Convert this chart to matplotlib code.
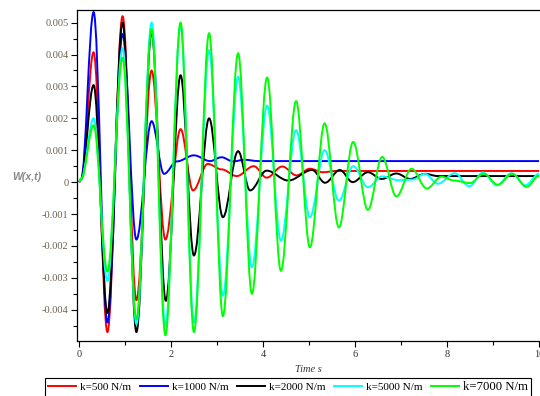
import matplotlib.pyplot as plt
from matplotlib.path import Path
from matplotlib.patches import PathPatch
from matplotlib.lines import Line2D
from matplotlib.ticker import MultipleLocator, FuncFormatter

# values (peaks / troughs of each response)
t_500 = [0, 0.05, 0.32, 0.62, 0.95, 1.25, 1.58, 1.88, 2.21, 2.48, 2.8, 3.1,
         3.43, 3.8, 4.08, 4.42, 4.73, 5.02, 5.3, 5.6, 10]
w_500 = [0, 0.0001, 0.00407, -0.0047, 0.0052, -0.0037, 0.0035, -0.0018,
         0.00166, -0.00026, 0.00057, 0.0004, 0.00019, 0.0005, 0.00014,
         0.00049, 0.00021, 0.00042, 0.00031, 0.00035, 0.00035]

t_1000 = [0, 0.05, 0.32, 0.62, 0.95, 1.25, 1.58, 1.85, 2.13, 2.5, 2.85,
          3.1, 3.35, 3.6, 3.9, 10]
w_1000 = [0, 0.0001, 0.00533, -0.0044, 0.00464, -0.0018, 0.00191, 0.00026,
          0.00065, 0.00084, 0.00066, 0.00078, 0.00065, 0.0007, 0.00066,
          0.00066]

t_2000 = [0, 0.05, 0.32, 0.62, 0.95, 1.25, 1.58, 1.89, 2.21, 2.5, 2.83,
          3.13, 3.46, 3.72, 4.08, 4.55, 5.07, 5.35, 5.67, 5.95, 6.28, 6.58,
          6.9, 7.2, 7.52, 7.8, 10]
w_2000 = [0, 0.0001, 0.00304, -0.0041, 0.0050, -0.0047, 0.0047, -0.00372,
          0.00335, -0.0023, 0.0020, -0.0011, 0.00097, -0.00026, 0.00036,
          0.00005, 0.00038, -0.00002, 0.00038, 0.0, 0.00031, 0.0001,
          0.00027, 0.0001, 0.00026, 0.00019, 0.00019]

t_5000 = [0, 0.05, 0.32, 0.62, 0.95, 1.25, 1.58, 1.88, 2.21, 2.5, 2.83,
          3.13, 3.46, 3.76, 4.09, 4.39, 4.72, 5.02, 5.34, 5.65, 5.96, 6.28,
          6.59, 6.95, 7.25, 7.52, 7.8, 8.17, 8.48, 8.78, 9.08, 9.4, 9.7, 10]
w_5000 = [0, 0.0001, 0.0020, -0.0031, 0.0042, -0.00445, 0.0050, -0.0045,
          0.0049, -0.0044, 0.00414, -0.00356, 0.0033, -0.00267, 0.0024,
          -0.00183, 0.00163, -0.0011, 0.001, -0.00058, 0.0005, -0.00016,
          0.00018, 0.00006, 0.00008, 0.00026, -0.00005, 0.00028, -0.00013,
          0.0003, -0.0001, 0.00028, -0.0001, 0.00026]

t_7000 = [0, 0.05, 0.32, 0.62, 0.95, 1.25, 1.58, 1.88, 2.21, 2.5, 2.83,
          3.13, 3.46, 3.76, 4.09, 4.39, 4.72, 5.02, 5.34, 5.65, 5.96, 6.28,
          6.59, 6.9, 7.23, 7.56, 7.88, 8.15, 8.5, 8.8, 9.1, 9.42, 9.73, 10]
w_7000 = [0, 0.0001, 0.00178, -0.0028, 0.0039, -0.0043, 0.0048, -0.0048,
          0.0050, -0.0047, 0.00467, -0.0042, 0.00404, -0.0035, 0.00328,
          -0.00278, 0.00254, -0.00204, 0.00184, -0.00142, 0.00126, -0.00087,
          0.00079, -0.00045, 0.00042, -0.0002, 0.00017, 0.00005, -0.00003,
          0.00026, -0.00008, 0.00026, -0.00015, 0.0002]

labels = ['k=500 N/m', 'k=1000 N/m', 'k=2000 N/m', 'k=5000 N/m', 'k=7000 N/m']
colors = ['#ff0000', '#0000ff', '#000000', '#00ffff', '#00ff00']
series = [(t_500, w_500), (t_1000, w_1000), (t_2000, w_2000),
          (t_5000, w_5000), (t_7000, w_7000)]

serif = 'Liberation Serif'
tick_color = '#6a604e'


def smooth_path(t, w):
    # draw the line through the read points as a smooth curve
    # (flat tangent at each peak / trough)
    verts = [(t[0], w[0])]
    codes = [Path.MOVETO]
    for i in range(len(t) - 1):
        d = (t[i + 1] - t[i]) * 0.36
        verts += [(t[i] + d, w[i]), (t[i + 1] - d, w[i + 1]),
                  (t[i + 1], w[i + 1])]
        codes += [Path.CURVE4] * 3
    return Path(verts, codes)


fig = plt.figure(figsize=(5.4, 3.96), dpi=100)
ax = fig.add_axes([0.1435, 0.139, 0.8565, 0.836])

handles = []
for (t, w), c, lab in zip(series, colors, labels):
    ax.add_patch(PathPatch(smooth_path(t, w), facecolor='none', edgecolor=c,
                           lw=1.4))
    handles.append(Line2D([], [], color=c, lw=1.4, label=lab))

ax.set_xlim(-0.03, 10.02)
ax.set_ylim(-0.00498, 0.0054)
ax.xaxis.set_major_locator(MultipleLocator(2))
ax.xaxis.set_minor_locator(MultipleLocator(1))
ax.yaxis.set_major_locator(MultipleLocator(0.001))
ax.yaxis.set_minor_locator(MultipleLocator(0.0005))
ax.yaxis.set_major_formatter(FuncFormatter(
    lambda v, p: '0' if abs(v) < 1e-9 else '%.3f' % v))
ax.xaxis.set_major_formatter(FuncFormatter(lambda v, p: '%d' % round(v)))

ax.spines['right'].set_visible(False)
for s in ['left', 'bottom', 'top']:
    ax.spines[s].set_linewidth(0.9)
ax.tick_params(which='major', length=4.5, width=0.8, labelsize=7.5,
               labelcolor=tick_color, pad=2)
ax.tick_params(axis='x', labelcolor='#333333')
ax.tick_params(which='minor', length=3, width=0.8)
for lab in ax.get_xticklabels() + ax.get_yticklabels():
    lab.set_fontfamily(serif)

fig.text(26.5 / 540, 1 - 177 / 396, 'W(x,t)', family='Liberation Sans',
         fontsize=7.6, fontweight='bold', style='italic', color='#888888',
         ha='center', va='center')
fig.text(308 / 540, 1 - 369 / 396, 'Time s', family=serif, fontsize=7.5,
         style='italic', color='#333333', ha='center', va='center')

leg = fig.legend(handles=handles, loc='upper left',
                 bbox_to_anchor=(45 / 540, 1 - 378 / 396),
                 ncol=5, prop={'family': serif, 'size': 8}, frameon=True,
                 fancybox=False, edgecolor='black', framealpha=1,
                 handlelength=2.5, handletextpad=0.35, columnspacing=0.8,
                 borderpad=0.3, borderaxespad=0)
leg.get_frame().set_linewidth(0.8)
leg.get_texts()[4].set_fontsize(9.2)

fig.savefig('out.png', dpi=100)
